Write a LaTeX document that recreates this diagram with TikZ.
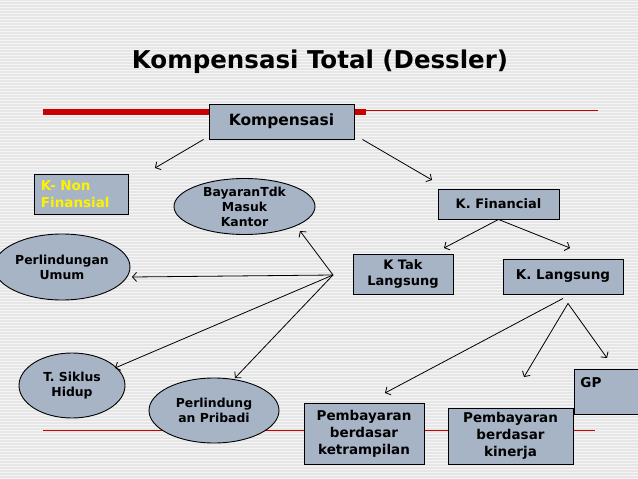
\documentclass[tikz,border=0pt]{standalone}
\usepackage{fontspec}
\setmainfont{DejaVu Sans}
\usetikzlibrary{shapes.geometric,arrows.meta}
\definecolor{bgray}{RGB}{230,230,230}
\definecolor{boxfill}{RGB}{166,180,198}
\definecolor{redbar}{RGB}{200,0,0}
\tikzset{
  kotak/.style={draw=black, line width=0.9pt, fill=boxfill, align=center,
    inner sep=2pt, font=\bfseries\fontsize{13.5}{17}\selectfont},
  elips/.style={draw=black, line width=0.9pt, fill=boxfill, ellipse, align=center,
    inner sep=0pt, font=\bfseries\fontsize{12.4}{15}\selectfont},
  panah/.style={draw, line width=0.8pt, -{Straight Barb[length=4pt,width=9pt]}}
}
\begin{document}
\begin{tikzpicture}[x=1pt,y=-1pt]
\clip (0,0) rectangle (638,479);
\fill[bgray] (0,0) rectangle (638,479);
\foreach \y in {1,4,...,479}
  \draw[white!60!bgray, line width=0.8pt] (0,\y) -- (638,\y);
% garis merah
\fill[redbar] (43,109) rectangle (366,115);
\draw[redbar, line width=0.8pt] (366,110) -- (598,110);
\draw[redbar, line width=0.8pt] (43,430) -- (595,430);
% judul
\node[font=\bfseries\fontsize{24.5}{28}\selectfont] (judul) at (320,62) {Kompensasi Total (Dessler)};
% kotak dan elips
\node[kotak, minimum width=145pt, minimum height=35pt, font=\bfseries\fontsize{15.5}{18}\selectfont] (komp) at (281.5,121.5) {Kompensasi};
\node[kotak, minimum width=94pt, minimum height=40pt, text width=80pt, align=left, inner xsep=7pt, text=yellow] (nonfin) at (81,194) {K- Non\\Finansial};
\node[elips, minimum width=141pt, minimum height=55pt] (bayaran) at (244.5,206.5) {BayaranTdk\\Masuk\\Kantor};
\node[elips, minimum width=136pt, minimum height=66pt] (umum) at (62,267) {Perlindungan\\Umum};
\node[kotak, minimum width=121pt, minimum height=30pt, font=\bfseries\fontsize{13}{16}\selectfont] (fin) at (498.5,204) {K. Financial};
\node[kotak, minimum width=100pt, minimum height=40pt, font=\bfseries\fontsize{13}{16}\selectfont] (taklangsung) at (403,274) {K Tak\\Langsung};
\node[kotak, minimum width=120pt, minimum height=35pt] (langsung) at (563,276.5) {K. Langsung};
\node[elips, minimum width=106pt, minimum height=65pt] (siklus) at (72,385.5) {T. Siklus\\Hidup};
\node[elips, minimum width=130pt, minimum height=65pt] (pribadi) at (214,410.5) {Perlindung\\an Pribadi};
\node[kotak, minimum width=120pt, minimum height=61pt] (ketrampilan) at (364,433.5) {Pembayaran\\berdasar\\ketrampilan};
\node[kotak, minimum width=125pt, minimum height=56pt] (kinerja) at (510.5,436) {Pembayaran\\berdasar\\kinerja};
\node[kotak, anchor=north west, minimum width=80pt, minimum height=40pt, text width=70pt, align=left, inner xsep=6pt, inner ysep=9pt, text depth=17pt] (gp) at (574,368.5) {GP};
% titik ujung panah
\coordinate (hub) at (333,275);
\coordinate (kA) at (155,168);
\coordinate (kB) at (432,180);
\coordinate (fA) at (444,248);
\coordinate (fB) at (570,248);
\coordinate (hA) at (300,231);
\coordinate (hB) at (132,277);
\coordinate (hC) at (115,368);
\coordinate (hD) at (235,378);
\coordinate (lA) at (385,393);
\coordinate (lB) at (524,377);
\coordinate (lC) at (607,358);
% panah
\draw[panah] ([xshift=-5pt]komp.south west) -- (kA);
\draw[panah] ([xshift=8pt]komp.south east) -- (kB);
\draw[panah] (fin.south) -- (fA);
\draw[panah] (fin.south) -- (fB);
\draw[panah] (hub) -- (hA);
\draw[panah] (hub) -- (hB);
\draw[panah] (hub) -- (hC);
\draw[panah] (hub) -- (hD);
\draw[panah] ([xshift=0pt,yshift=-4pt]langsung.south) -- (lA);
\draw[panah] ([xshift=5pt,yshift=-9pt]langsung.south) -- (lB);
\draw[panah] ([xshift=5pt,yshift=-9pt]langsung.south) -- (lC);
\end{tikzpicture}
\end{document}
